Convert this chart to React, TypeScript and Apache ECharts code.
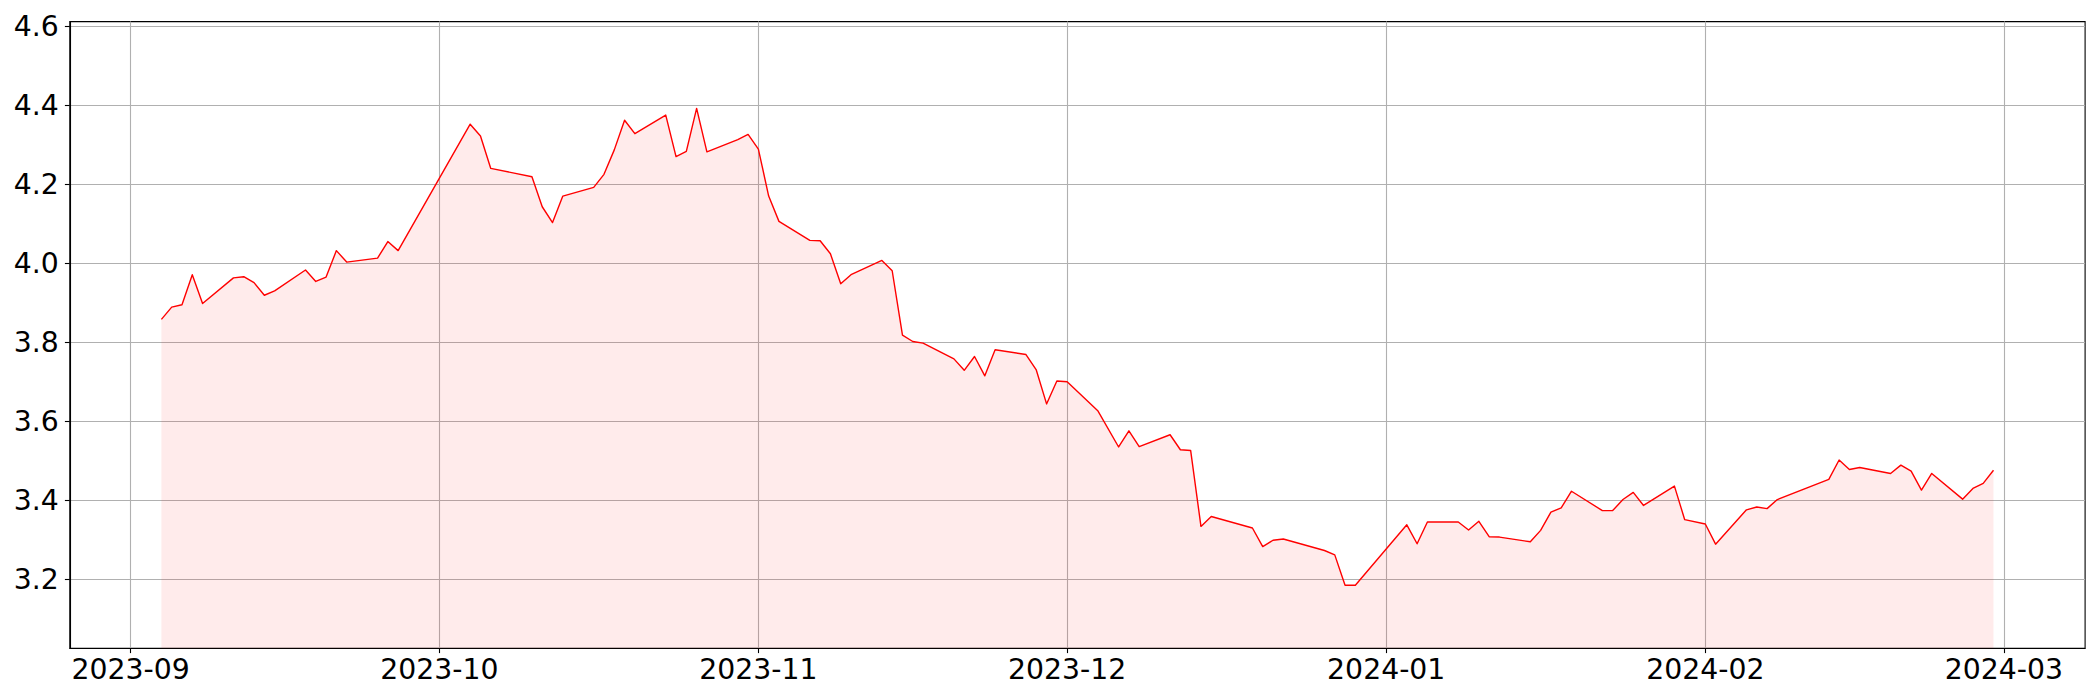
import React, { useEffect, useRef } from "react";
import * as echarts from "echarts";

const dates: string[] = [
  "2023-09-04", "2023-09-05", "2023-09-06", "2023-09-07", "2023-09-08",
  "2023-09-11", "2023-09-12", "2023-09-13", "2023-09-14", "2023-09-15",
  "2023-09-18", "2023-09-19", "2023-09-20", "2023-09-21", "2023-09-22",
  "2023-09-25", "2023-09-26", "2023-09-27",
  "2023-10-04", "2023-10-05", "2023-10-06",
  "2023-10-10", "2023-10-11", "2023-10-12", "2023-10-13",
  "2023-10-16", "2023-10-17", "2023-10-18", "2023-10-19", "2023-10-20",
  "2023-10-23", "2023-10-24", "2023-10-25", "2023-10-26", "2023-10-27",
  "2023-10-30", "2023-10-31",
  "2023-11-01", "2023-11-02", "2023-11-03",
  "2023-11-06", "2023-11-07", "2023-11-08", "2023-11-09", "2023-11-10",
  "2023-11-13", "2023-11-14", "2023-11-15", "2023-11-16", "2023-11-17",
  "2023-11-20", "2023-11-21", "2023-11-22", "2023-11-23", "2023-11-24",
  "2023-11-27", "2023-11-28", "2023-11-29", "2023-11-30",
  "2023-12-01", "2023-12-04", "2023-12-06", "2023-12-07", "2023-12-08",
  "2023-12-11", "2023-12-12", "2023-12-13", "2023-12-14", "2023-12-15",
  "2023-12-19", "2023-12-20", "2023-12-21", "2023-12-22",
  "2023-12-26", "2023-12-27", "2023-12-28", "2023-12-29",
  "2024-01-03", "2024-01-04", "2024-01-05",
  "2024-01-08", "2024-01-09", "2024-01-10", "2024-01-11", "2024-01-12",
  "2024-01-15", "2024-01-16", "2024-01-17", "2024-01-18", "2024-01-19",
  "2024-01-22", "2024-01-23", "2024-01-24", "2024-01-25", "2024-01-26",
  "2024-01-29", "2024-01-30",
  "2024-02-01", "2024-02-02",
  "2024-02-05", "2024-02-06", "2024-02-07", "2024-02-08",
  "2024-02-13", "2024-02-14", "2024-02-15", "2024-02-16",
  "2024-02-19", "2024-02-20", "2024-02-21", "2024-02-22", "2024-02-23",
  "2024-02-26", "2024-02-27", "2024-02-28", "2024-02-29",
];

const values: number[] = [
  3.858, 3.889, 3.895, 3.971, 3.898,
  3.963, 3.966, 3.951, 3.919, 3.930,
  3.983, 3.954, 3.965, 4.032, 4.003,
  4.013, 4.055, 4.032,
  4.352, 4.322, 4.240,
  4.219, 4.143, 4.103, 4.170,
  4.192, 4.225, 4.287, 4.362, 4.328,
  4.375, 4.270, 4.283, 4.392, 4.282,
  4.313, 4.326,
  4.289, 4.170, 4.106,
  4.058, 4.057, 4.024, 3.948, 3.971,
  4.007, 3.981, 3.818, 3.802, 3.798,
  3.758, 3.729, 3.764, 3.715, 3.781,
  3.769, 3.730, 3.644, 3.702,
  3.700, 3.626, 3.535, 3.576, 3.536,
  3.566, 3.528, 3.526, 3.334, 3.359,
  3.330, 3.283, 3.299, 3.302,
  3.273, 3.262, 3.185, 3.185,
  3.338, 3.290, 3.345,
  3.345, 3.325, 3.347, 3.308, 3.307,
  3.295, 3.324, 3.370, 3.381, 3.423,
  3.374, 3.374, 3.402, 3.420, 3.387,
  3.436, 3.351,
  3.340, 3.289,
  3.376, 3.383, 3.379, 3.402,
  3.453, 3.502, 3.478, 3.483,
  3.468, 3.489, 3.474, 3.426, 3.468,
  3.403, 3.430, 3.443, 3.476,
];

const monthTicks: string[] = [
  "2023-09-01", "2023-10-01", "2023-11-01", "2023-12-01",
  "2024-01-01", "2024-02-01", "2024-03-01",
];
const monthLabels: string[] = [
  "2023-09", "2023-10", "2023-11", "2023-12", "2024-01", "2024-02", "2024-03",
];
const yTicks: number[] = [3.2, 3.4, 3.6, 3.8, 4.0, 4.2, 4.4, 4.6];
const yTickLabels: string[] = ["3.2", "3.4", "3.6", "3.8", "4.0", "4.2", "4.4", "4.6"];

const toTs = (s: string): number => {
  const [y, m, d] = s.split("-").map(Number);
  return Date.UTC(y, m - 1, d);
};

export default function App() {
  const ref = useRef<HTMLDivElement>(null);

  useEffect(() => {
    if (!ref.current) return;
    const chart = echarts.init(ref.current, null, { renderer: "svg" });
    const ts = dates.map(toTs);
    const data = ts.map((t, i) => [t, values[i]]);
    const span = ts[ts.length - 1] - ts[0];
    const xMin = ts[0] - span * 0.05;
    const xMax = ts[ts.length - 1] + span * 0.05;
    const yMin = Math.min(...values) * 0.95;
    const yMax = Math.max(...values) * 1.05;
    const tickTs = monthTicks.map(toTs);

    const font = {
      fontFamily: "DejaVu Sans",
      fontSize: 28.3,
      color: "#000",
    };
    const spine = { color: "#000", width: 1.1 };
    const gridLine = { color: "#b0b0b0", width: 1.1 };

    chart.setOption({
      animation: false,
      backgroundColor: "#fff",
      grid: {
        left: 69.8,
        right: 14.9,
        top: 21.6,
        bottom: 51.8,
        show: true,
        borderColor: "#000",
        borderWidth: 1.1,
        backgroundColor: "transparent",
        containLabel: false,
        outerBoundsMode: "none",
      },
      xAxis: {
        type: "value",
        min: xMin,
        max: xMax,
        axisLine: { show: true, onZero: false, lineStyle: spine },
        axisTick: {
          show: true,
          inside: false,
          length: 4.9,
          lineStyle: spine,
          customValues: tickTs,
        },
        axisLabel: {
          ...font,
          margin: 7,
          customValues: tickTs,
          formatter: (v: number) => {
            const i = tickTs.findIndex((t) => Math.abs(t - v) < 1000);
            return i >= 0 ? monthLabels[i] : "";
          },
        },
        splitLine: { show: true, lineStyle: gridLine },
      },
      yAxis: {
        type: "value",
        min: yMin,
        max: yMax,
        axisLine: { show: true, onZero: false, lineStyle: spine },
        axisTick: {
          show: true,
          inside: false,
          length: 4.9,
          lineStyle: spine,
          customValues: yTicks,
        },
        axisLabel: {
          ...font,
          margin: 11,
          customValues: yTicks,
          formatter: (v: number) => {
            const i = yTicks.findIndex((t) => Math.abs(t - v) < 1e-6);
            return i >= 0 ? yTickLabels[i] : "";
          },
        },
        splitLine: { show: true, lineStyle: gridLine },
      },
      series: [
        {
          type: "line",
          data,
          showSymbol: false,
          symbol: "none",
          lineStyle: { color: "#ff0000", width: 1.4, join: "round" },
          areaStyle: { color: "rgba(255,0,0,0.11)", origin: "start" },
          silent: true,
        },
      ],
    });

    return () => chart.dispose();
  }, []);

  return (
    <div
      ref={ref}
      style={{ position: "absolute", left: 0, top: 0, width: 2100, height: 700 }}
    />
  );
}
